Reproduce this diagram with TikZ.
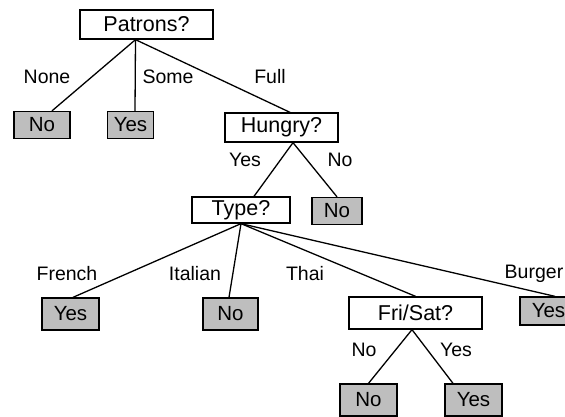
\documentclass[tikz,border=0pt]{standalone}
\usepackage{fontspec}
\setmainfont{Liberation Sans}
\usepackage{tikz}
\usetikzlibrary{positioning}
\definecolor{leafbg}{HTML}{BEBEBE}
\tikzset{
  test/.style={draw=black,fill=white,line width=1.3pt,inner sep=0pt,
               minimum height=29pt,font=\fontsize{21.5}{25}\selectfont},
  leaf/.style={test,fill=leafbg,minimum height=27pt,font=\fontsize{20.5}{24}\selectfont},
  branch/.style={line width=1.3pt},
  tag/.style={inner sep=0pt,font=\fontsize{19.5}{23}\selectfont},
}
\begin{document}
\begin{tikzpicture}[x=1pt,y=-1pt]
  \useasboundingbox (0,0) rectangle (565,417);
  % decision nodes
  \node[test,minimum width=133pt] (patrons) at (146.5,24.5) {Patrons?};
  \node[test,minimum width=113pt] (hungry) at (281.5,127.5) {Hungry?};
  \node[test,minimum width=98pt,minimum height=26pt] (type) at (241,210) {Type?};
  \node[test,minimum width=133pt,minimum height=32pt] (frisat) at (415.5,313) {Fri/Sat?};
  % leaves
  \node[leaf,minimum width=56pt] (none) at (42,125) {No};
  \node[leaf,minimum width=46pt] (some) at (130.5,125) {Yes};
  \node[leaf,minimum width=50pt] (full) at (337,211) {No};
  \node[leaf,minimum width=57pt,minimum height=32pt] (french) at (70.5,314) {Yes};
  \node[leaf,minimum width=55pt,minimum height=32pt] (italian) at (230.5,314) {No};
  \node[leaf,minimum width=57pt,minimum height=28pt] (burger) at (548.5,311) {Yes};
  \node[leaf,minimum width=57pt,minimum height=32pt] (fsno) at (368.5,400) {No};
  \node[leaf,minimum width=57pt,minimum height=32pt] (fsyes) at (473.5,400) {Yes};
  % branch labels
  \node[tag] (lnone) at (47,77) {None};
  \node[tag] (lsome) at (168,77) {Some};
  \node[tag] (lfull) at (270,77) {Full};
  \node[tag] (lhyes) at (245,160) {Yes};
  \node[tag] (lhno) at (340,160) {No};
  \node[tag] (lfrench) at (67,274) {French};
  \node[tag] (litalian) at (195,274) {Italian};
  \node[tag] (lthai) at (305,274) {Thai};
  \node[tag] (lburger) at (534,274) {Burger};
  \node[tag] (lfsno) at (364,350) {No};
  \node[tag] (lfsyes) at (456,350) {Yes};
  % branches
  \draw[branch] ([xshift=-11pt]patrons.south) -- ([xshift=10pt]none.north);
  \draw[branch] ([xshift=-11pt]patrons.south) -- ([xshift=4.5pt]some.north);
  \draw[branch] ([xshift=-11pt]patrons.south) -- ([xshift=8.5pt]hungry.north);
  \draw[branch] ([xshift=11.5pt]hungry.south) -- ([xshift=13pt]type.north);
  \draw[branch] ([xshift=11.5pt]hungry.south) -- (full.north);
  \draw[branch] (type.south) -- ([xshift=2.5pt]french.north);
  \draw[branch] (type.south) -- ([xshift=-1.5pt]italian.north);
  \draw[branch] (type.south) -- (frisat.north);
  \draw[branch] (type.south) -- ([xshift=6.5pt]burger.north);
  \draw[branch] ([xshift=-3.5pt]frisat.south) -- (fsno.north);
  \draw[branch] ([xshift=-3.5pt]frisat.south) -- ([xshift=-20.5pt]fsyes.north);
\end{tikzpicture}
\end{document}
